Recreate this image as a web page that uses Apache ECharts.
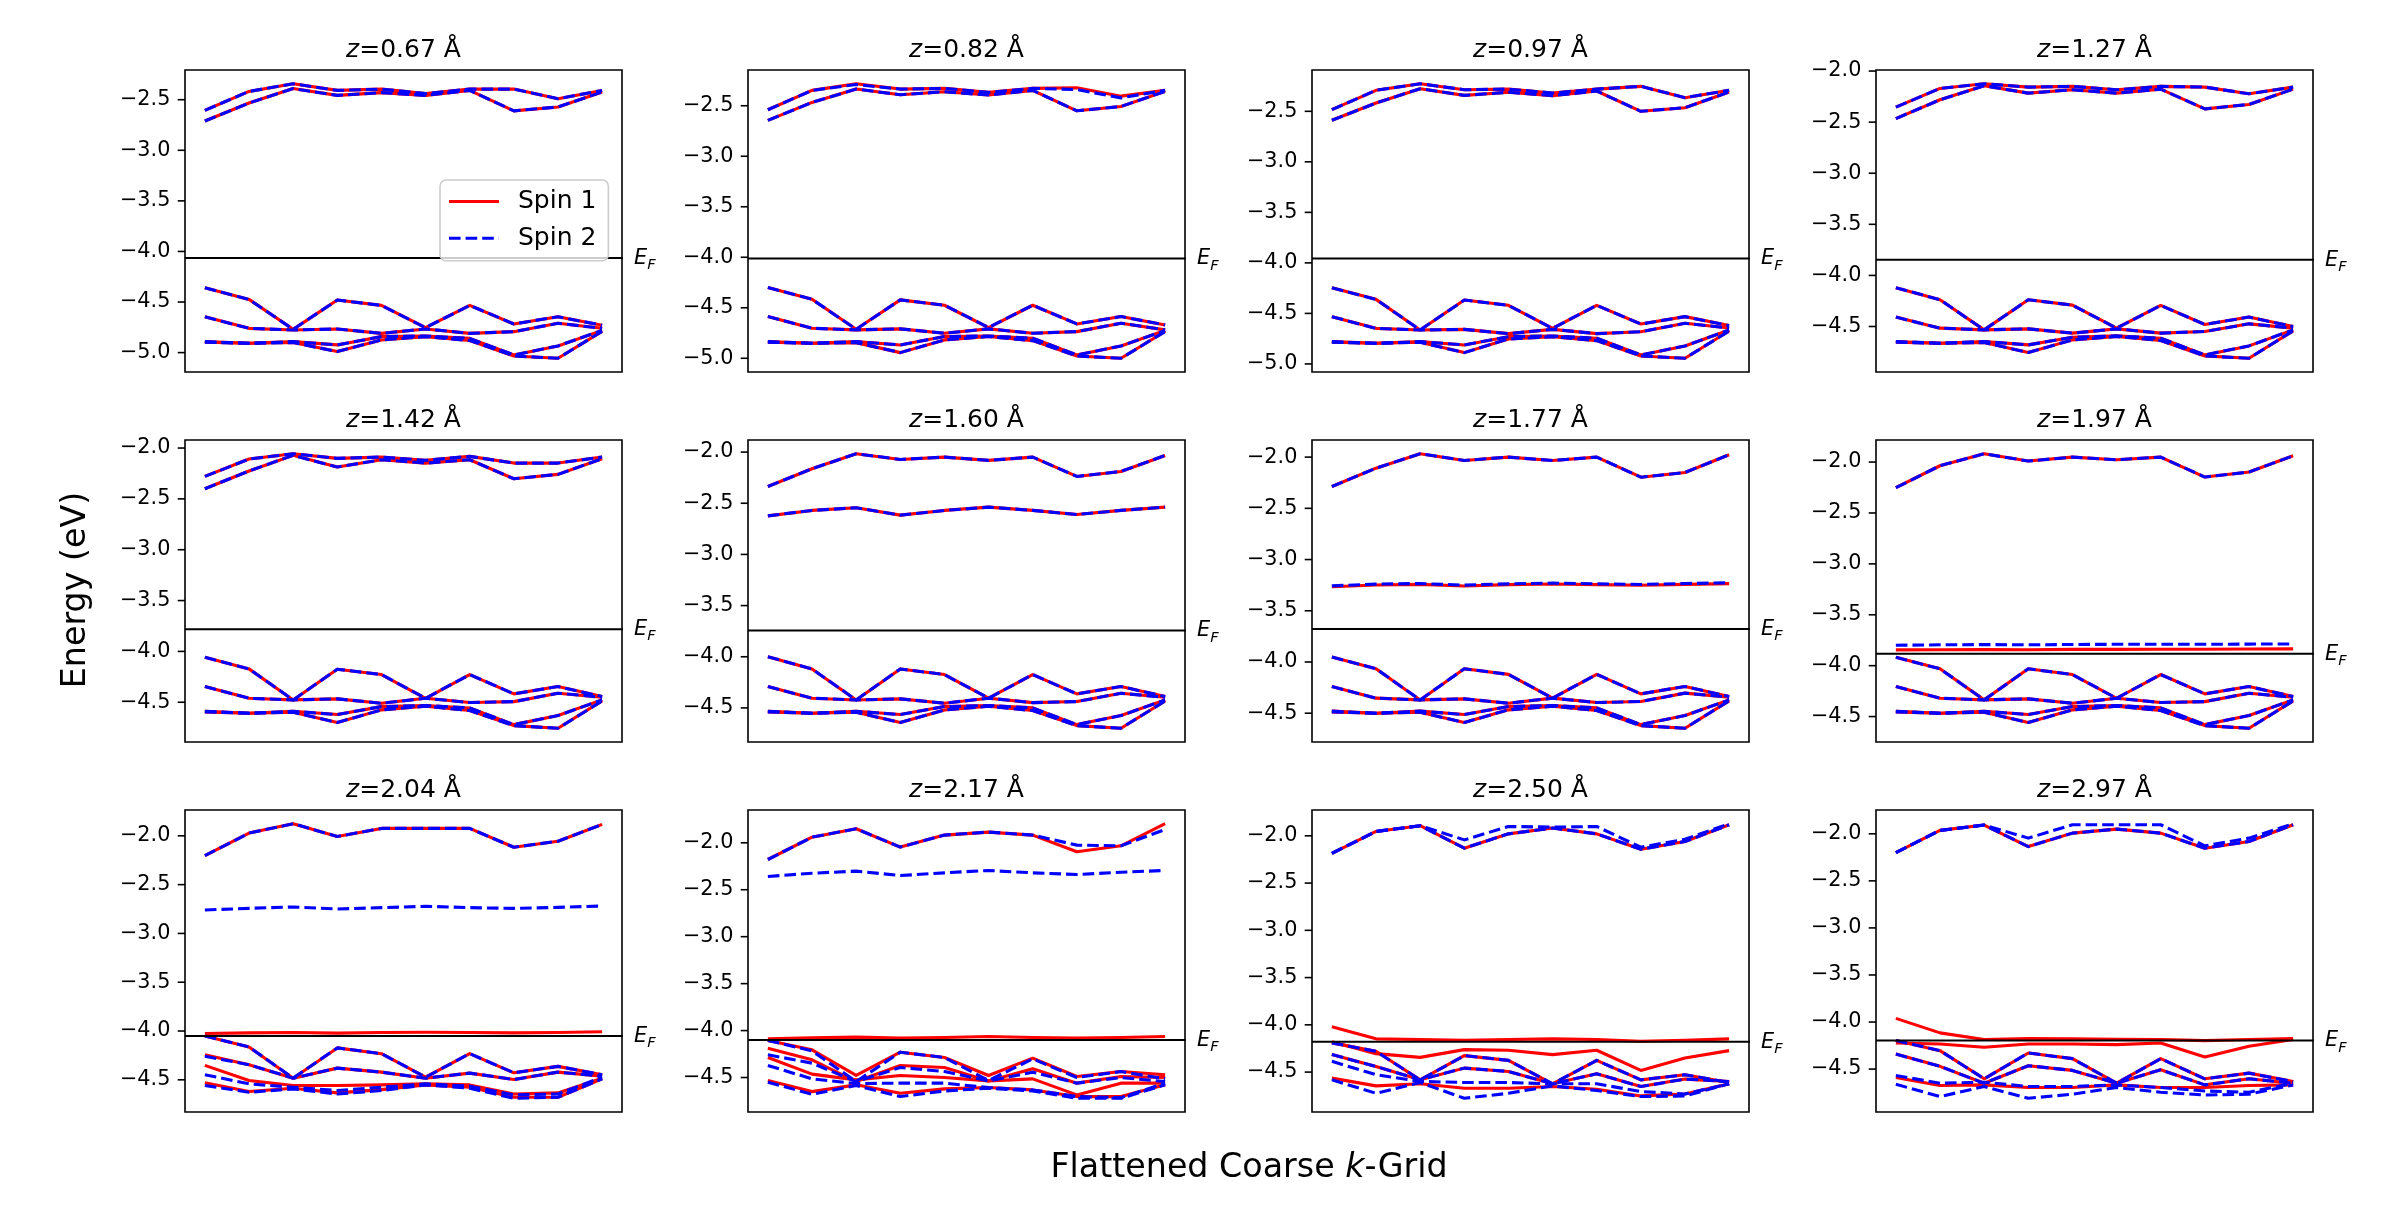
<!DOCTYPE html>
<html>
<head>
<meta charset="utf-8">
<script src="https://cdn.jsdelivr.net/npm/echarts@6/dist/echarts.min.js"></script>
<style>
html,body{margin:0;padding:0;background:#fff;}
#chart{width:2392px;height:1208px;}
</style>
</head>
<body>
<div id="chart"></div>
<script>
// ---------------- DATA ----------------
const kPoints = [0, 1, 2, 3, 4, 5, 6, 7, 8, 9];
const zValues = ['0.67', '0.82', '0.97', '1.27', '1.42', '1.60', '1.77', '1.97', '2.04', '2.17', '2.50', '2.97'];
const fermiLevels = [-4.065, -4.013, -3.956, -3.846, -3.781, -3.744, -3.678, -3.884, -4.05, -4.10, -4.18, -4.197];
const ticksLow = [-5.0, -4.5, -4.0, -3.5, -3.0, -2.5];
const ticksHigh = [-4.5, -4.0, -3.5, -3.0, -2.5, -2.0];
const legendNames = ['Spin 1', 'Spin 2'];

// z = 0.67 Å
const z067_spin1 = [
  [-2.605, -2.418, -2.342, -2.408, -2.395, -2.44, -2.395, -2.395, -2.49, -2.408],
  [-2.71, -2.533, -2.39, -2.457, -2.43, -2.457, -2.408, -2.61, -2.572, -2.424],
  [-4.359, -4.474, -4.77, -4.48, -4.533, -4.753, -4.533, -4.717, -4.645, -4.73],
  [-4.645, -4.76, -4.776, -4.766, -4.81, -4.766, -4.81, -4.793, -4.71, -4.76],
  [-4.891, -4.908, -4.891, -4.924, -4.842, -4.836, -4.859, -5.023, -4.934, -4.78],
  [-4.898, -4.908, -4.90, -4.99, -4.875, -4.842, -4.88, -5.033, -5.056, -4.79]
];
const z067_spin2 = z067_spin1;

// z = 0.82 Å
const z082_spin1 = [
  [-2.54, -2.348, -2.282, -2.335, -2.328, -2.368, -2.328, -2.322, -2.405, -2.348],
  [-2.645, -2.467, -2.335, -2.391, -2.361, -2.394, -2.348, -2.55, -2.507, -2.358],
  [-4.30, -4.416, -4.713, -4.422, -4.475, -4.696, -4.475, -4.66, -4.587, -4.67],
  [-4.587, -4.703, -4.719, -4.709, -4.752, -4.709, -4.752, -4.736, -4.653, -4.719],
  [-4.835, -4.851, -4.835, -4.868, -4.785, -4.779, -4.802, -4.967, -4.878, -4.725],
  [-4.842, -4.851, -4.845, -4.944, -4.818, -4.785, -4.825, -4.977, -5.0, -4.735]
];
const z082_spin2 = [
  [-2.54, -2.348, -2.29, -2.335, -2.328, -2.368, -2.328, -2.34, -2.422, -2.348],
  [-2.645, -2.467, -2.335, -2.391, -2.361, -2.394, -2.348, -2.55, -2.507, -2.358],
  [-4.30, -4.416, -4.713, -4.422, -4.475, -4.696, -4.475, -4.66, -4.587, -4.67],
  [-4.587, -4.703, -4.719, -4.709, -4.752, -4.709, -4.752, -4.736, -4.653, -4.719],
  [-4.835, -4.851, -4.835, -4.868, -4.785, -4.779, -4.802, -4.967, -4.878, -4.725],
  [-4.842, -4.851, -4.845, -4.944, -4.818, -4.785, -4.825, -4.977, -5.0, -4.735]
];

// z = 0.97 Å
const z097_spin1 = [
  [-2.484, -2.292, -2.227, -2.286, -2.28, -2.319, -2.28, -2.253, -2.365, -2.292],
  [-2.589, -2.418, -2.276, -2.342, -2.312, -2.345, -2.299, -2.50, -2.464, -2.309],
  [-4.246, -4.361, -4.664, -4.368, -4.42, -4.648, -4.42, -4.605, -4.532, -4.62],
  [-4.532, -4.648, -4.664, -4.658, -4.70, -4.658, -4.70, -4.681, -4.598, -4.645],
  [-4.779, -4.796, -4.779, -4.812, -4.73, -4.723, -4.746, -4.911, -4.822, -4.664],
  [-4.786, -4.796, -4.786, -4.888, -4.753, -4.73, -4.769, -4.921, -4.944, -4.674]
];
const z097_spin2 = z097_spin1;

// z = 1.27 Å
const z127_spin1 = [
  [-2.353, -2.17, -2.124, -2.157, -2.15, -2.183, -2.15, -2.157, -2.223, -2.157],
  [-2.465, -2.281, -2.144, -2.216, -2.183, -2.216, -2.177, -2.37, -2.327, -2.177],
  [-4.12, -4.238, -4.533, -4.238, -4.291, -4.516, -4.294, -4.48, -4.408, -4.50],
  [-4.408, -4.516, -4.533, -4.523, -4.565, -4.523, -4.565, -4.549, -4.474, -4.516],
  [-4.647, -4.664, -4.647, -4.68, -4.605, -4.592, -4.615, -4.778, -4.69, -4.533],
  [-4.654, -4.664, -4.657, -4.755, -4.631, -4.598, -4.637, -4.788, -4.811, -4.543]
];
const z127_spin2 = z127_spin1;

// z = 1.42 Å
const z142_spin1 = [
  [-2.279, -2.108, -2.056, -2.102, -2.089, -2.121, -2.082, -2.148, -2.148, -2.089],
  [-2.40, -2.226, -2.072, -2.187, -2.115, -2.148, -2.115, -2.302, -2.259, -2.105],
  [-4.057, -4.172, -4.477, -4.175, -4.228, -4.461, -4.228, -4.418, -4.346, -4.444],
  [-4.346, -4.461, -4.477, -4.467, -4.51, -4.461, -4.503, -4.494, -4.411, -4.451],
  [-4.589, -4.608, -4.589, -4.621, -4.543, -4.533, -4.556, -4.72, -4.631, -4.477],
  [-4.595, -4.608, -4.598, -4.70, -4.575, -4.539, -4.582, -4.73, -4.756, -4.487]
];
const z142_spin2 = z142_spin1;

// z = 1.60 Å
const z160_spin1 = [
  [-2.336, -2.163, -2.016, -2.072, -2.049, -2.081, -2.049, -2.238, -2.189, -2.033],
  [-2.623, -2.57, -2.544, -2.616, -2.57, -2.538, -2.57, -2.61, -2.57, -2.538],
  [-4.0, -4.119, -4.422, -4.119, -4.174, -4.405, -4.174, -4.363, -4.291, -4.389],
  [-4.291, -4.405, -4.422, -4.412, -4.454, -4.405, -4.448, -4.438, -4.357, -4.396],
  [-4.533, -4.552, -4.533, -4.565, -4.487, -4.477, -4.50, -4.663, -4.575, -4.422],
  [-4.539, -4.552, -4.542, -4.643, -4.52, -4.484, -4.526, -4.673, -4.699, -4.432]
];
const z160_spin2 = z160_spin1;

// z = 1.77 Å
const z177_spin1 = [
  [-2.287, -2.108, -1.967, -2.033, -2.0, -2.033, -2.0, -2.196, -2.15, -1.977],
  [-3.265, -3.248, -3.242, -3.258, -3.245, -3.238, -3.245, -3.251, -3.242, -3.235],
  [-3.952, -4.066, -4.37, -4.066, -4.121, -4.353, -4.121, -4.311, -4.239, -4.337],
  [-4.239, -4.353, -4.37, -4.36, -4.402, -4.353, -4.396, -4.386, -4.304, -4.343],
  [-4.48, -4.50, -4.48, -4.513, -4.435, -4.425, -4.448, -4.611, -4.523, -4.37],
  [-4.487, -4.50, -4.49, -4.591, -4.467, -4.432, -4.474, -4.621, -4.647, -4.379]
];
const z177_spin2 = [
  [-2.287, -2.108, -1.967, -2.033, -2.0, -2.033, -2.0, -2.196, -2.15, -1.977],
  [-3.257, -3.24, -3.234, -3.25, -3.237, -3.23, -3.237, -3.243, -3.234, -3.227],
  [-3.952, -4.066, -4.37, -4.066, -4.121, -4.353, -4.121, -4.311, -4.239, -4.337],
  [-4.239, -4.353, -4.37, -4.36, -4.402, -4.353, -4.396, -4.386, -4.304, -4.343],
  [-4.48, -4.50, -4.48, -4.513, -4.435, -4.425, -4.448, -4.611, -4.523, -4.37],
  [-4.487, -4.50, -4.49, -4.591, -4.467, -4.432, -4.474, -4.621, -4.647, -4.379]
];

// z = 1.97 Å
const z197_spin1 = [
  [-2.252, -2.036, -1.918, -1.99, -1.951, -1.977, -1.951, -2.147, -2.098, -1.938],
  [-3.845, -3.843, -3.842, -3.843, -3.84, -3.84, -3.838, -3.838, -3.836, -3.835],
  [-3.917, -4.031, -4.336, -4.031, -4.087, -4.32, -4.087, -4.277, -4.205, -4.303],
  [-4.205, -4.32, -4.336, -4.326, -4.369, -4.32, -4.362, -4.353, -4.271, -4.31],
  [-4.448, -4.467, -4.448, -4.48, -4.402, -4.392, -4.415, -4.579, -4.49, -4.336],
  [-4.454, -4.467, -4.457, -4.559, -4.434, -4.398, -4.441, -4.589, -4.615, -4.346]
];
const z197_spin2 = [
  [-2.252, -2.036, -1.918, -1.99, -1.951, -1.977, -1.951, -2.147, -2.098, -1.938],
  [-3.80, -3.795, -3.793, -3.795, -3.792, -3.79, -3.79, -3.79, -3.788, -3.787],
  [-3.917, -4.031, -4.336, -4.031, -4.087, -4.32, -4.087, -4.277, -4.205, -4.303],
  [-4.205, -4.32, -4.336, -4.326, -4.369, -4.32, -4.362, -4.353, -4.271, -4.31],
  [-4.448, -4.467, -4.448, -4.48, -4.402, -4.392, -4.415, -4.579, -4.49, -4.336],
  [-4.454, -4.467, -4.457, -4.559, -4.434, -4.398, -4.441, -4.589, -4.615, -4.346]
];

// z = 2.04 Å
const z204_spin1 = [
  [-2.203, -1.972, -1.876, -2.007, -1.924, -1.924, -1.924, -2.117, -2.055, -1.883],
  [-4.025, -4.019, -4.015, -4.022, -4.015, -4.012, -4.015, -4.019, -4.015, -4.008],
  [-4.05, -4.163, -4.483, -4.173, -4.232, -4.473, -4.232, -4.428, -4.362, -4.448],
  [-4.242, -4.345, -4.483, -4.38, -4.421, -4.483, -4.431, -4.497, -4.421, -4.462],
  [-4.352, -4.507, -4.558, -4.558, -4.552, -4.541, -4.552, -4.645, -4.634, -4.483],
  [-4.531, -4.62, -4.586, -4.634, -4.6, -4.552, -4.576, -4.679, -4.679, -4.49]
];
const z204_spin2 = [
  [-2.203, -1.972, -1.876, -2.007, -1.924, -1.924, -1.924, -2.117, -2.055, -1.883],
  [-2.76, -2.743, -2.729, -2.75, -2.736, -2.722, -2.736, -2.743, -2.733, -2.719],
  [-4.05, -4.163, -4.483, -4.173, -4.232, -4.473, -4.232, -4.428, -4.362, -4.448],
  [-4.259, -4.345, -4.483, -4.38, -4.421, -4.483, -4.431, -4.497, -4.421, -4.462],
  [-4.448, -4.541, -4.576, -4.61, -4.576, -4.541, -4.565, -4.655, -4.645, -4.473],
  [-4.558, -4.627, -4.593, -4.645, -4.61, -4.552, -4.586, -4.689, -4.679, -4.49]
];

// z = 2.17 Å
const z217_spin1 = [
  [-2.178, -1.94, -1.851, -2.046, -1.918, -1.886, -1.918, -2.096, -2.032, -1.797],
  [-4.087, -4.077, -4.07, -4.08, -4.073, -4.063, -4.073, -4.08, -4.073, -4.063],
  [-4.105, -4.205, -4.478, -4.23, -4.287, -4.478, -4.294, -4.489, -4.436, -4.471],
  [-4.187, -4.312, -4.543, -4.372, -4.393, -4.536, -4.407, -4.56, -4.489, -4.5],
  [-4.287, -4.464, -4.525, -4.478, -4.5, -4.536, -4.514, -4.685, -4.56, -4.56],
  [-4.532, -4.65, -4.578, -4.667, -4.621, -4.607, -4.632, -4.703, -4.703, -4.578]
];
const z217_spin2 = [
  [-2.178, -1.94, -1.851, -2.046, -1.918, -1.886, -1.918, -2.025, -2.032, -1.858],
  [-2.359, -2.324, -2.302, -2.349, -2.32, -2.295, -2.32, -2.338, -2.313, -2.295],
  [-4.105, -4.216, -4.543, -4.23, -4.287, -4.532, -4.301, -4.5, -4.436, -4.514],
  [-4.258, -4.347, -4.543, -4.393, -4.436, -4.536, -4.443, -4.56, -4.5, -4.543],
  [-4.372, -4.514, -4.564, -4.56, -4.56, -4.607, -4.632, -4.703, -4.714, -4.56],
  [-4.55, -4.678, -4.585, -4.703, -4.643, -4.614, -4.643, -4.721, -4.721, -4.578]
];

// z = 2.50 Å
const z250_spin1 = [
  [-2.185, -1.954, -1.893, -2.131, -1.979, -1.918, -1.979, -2.142, -2.06, -1.883],
  [-4.021, -4.148, -4.155, -4.163, -4.155, -4.148, -4.155, -4.173, -4.163, -4.148],
  [-4.18, -4.305, -4.344, -4.262, -4.269, -4.315, -4.269, -4.482, -4.351, -4.273],
  [-4.191, -4.28, -4.582, -4.326, -4.376, -4.624, -4.376, -4.582, -4.528, -4.61],
  [-4.315, -4.44, -4.582, -4.458, -4.493, -4.624, -4.518, -4.653, -4.574, -4.599],
  [-4.564, -4.646, -4.624, -4.671, -4.671, -4.653, -4.681, -4.752, -4.731, -4.624]
];
const z250_spin2 = [
  [-2.185, -1.954, -1.893, -2.131, -1.979, -1.918, -1.979, -2.142, -2.06, -1.883],
  [-2.185, -1.954, -1.893, -2.043, -1.901, -1.908, -1.901, -2.121, -2.036, -1.872],
  [-4.191, -4.28, -4.582, -4.326, -4.376, -4.624, -4.376, -4.582, -4.528, -4.61],
  [-4.315, -4.44, -4.582, -4.458, -4.493, -4.624, -4.518, -4.653, -4.574, -4.599],
  [-4.386, -4.528, -4.599, -4.61, -4.61, -4.624, -4.624, -4.706, -4.731, -4.624],
  [-4.582, -4.724, -4.61, -4.777, -4.724, -4.646, -4.695, -4.759, -4.752, -4.624]
];

// z = 2.97 Å
const z297_spin1 = [
  [-2.2, -1.964, -1.907, -2.136, -1.993, -1.95, -1.993, -2.153, -2.082, -1.904],
  [-3.961, -4.115, -4.186, -4.175, -4.179, -4.183, -4.186, -4.197, -4.186, -4.175],
  [-4.222, -4.233, -4.268, -4.233, -4.233, -4.24, -4.222, -4.372, -4.257, -4.186],
  [-4.197, -4.304, -4.603, -4.329, -4.389, -4.65, -4.389, -4.603, -4.543, -4.632],
  [-4.34, -4.471, -4.65, -4.464, -4.514, -4.65, -4.507, -4.668, -4.603, -4.65],
  [-4.589, -4.675, -4.668, -4.696, -4.696, -4.668, -4.696, -4.696, -4.675, -4.668]
];
const z297_spin2 = [
  [-2.2, -1.964, -1.907, -2.136, -1.993, -1.95, -1.993, -2.153, -2.082, -1.904],
  [-2.2, -1.964, -1.907, -2.046, -1.904, -1.904, -1.904, -2.128, -2.046, -1.893],
  [-4.197, -4.304, -4.603, -4.329, -4.389, -4.65, -4.389, -4.603, -4.543, -4.632],
  [-4.34, -4.471, -4.65, -4.464, -4.514, -4.65, -4.507, -4.668, -4.603, -4.65],
  [-4.568, -4.65, -4.639, -4.685, -4.685, -4.668, -4.696, -4.732, -4.746, -4.65],
  [-4.661, -4.792, -4.685, -4.81, -4.767, -4.696, -4.746, -4.775, -4.767, -4.668]
];

const spin1Panels = [z067_spin1, z082_spin1, z097_spin1, z127_spin1, z142_spin1, z160_spin1,
                     z177_spin1, z197_spin1, z204_spin1, z217_spin1, z250_spin1, z297_spin1];
const spin2Panels = [z067_spin2, z082_spin2, z097_spin2, z127_spin2, z142_spin2, z160_spin2,
                     z177_spin2, z197_spin2, z204_spin2, z217_spin2, z250_spin2, z297_spin2];
const tickSets = [ticksLow, ticksLow, ticksLow, ticksHigh, ticksHigh, ticksHigh,
                  ticksHigh, ticksHigh, ticksHigh, ticksHigh, ticksHigh, ticksHigh];

// ---------------- LAYOUT / STYLE ----------------
const FONT = 'DejaVu Sans';
const colLeft = [185, 748, 1312, 1876];
const rowTop = [70, 440, 810];
const PW = 437, PH = 302;
const RED = '#ff0000', BLUE = '#0000ff';
const TICK_LEN = 7.3;
const LW = 3.1, DASH = 11.6, GAP = 5;

// legend handle shapes (solid bar / dashed bar, 50 px long)
const solidIcon = 'path://M0,0h50v' + LW + 'h-50z';
let dashPath = '';
for (let s = 0; s < 50; s += DASH + GAP) {
  const w = Math.min(DASH, 50 - s);
  dashPath += 'M' + s + ',0h' + w + 'v' + LW + 'h-' + w + 'z';
}
const dashIcon = 'path://' + dashPath;

const xLo = Math.min(...kPoints), xHi = Math.max(...kPoints);
const xPad = 0.05 * (xHi - xLo);
const xMin = xLo - xPad, xMax = xHi + xPad;
const xEF = xMax + 0.016 * (xMax - xMin);

const fmt = v => (v < 0 ? '\u2212' : '') + Math.abs(v).toFixed(1);

const grids = [], xAxes = [], yAxes = [], series = [], graphics = [];

zValues.forEach((z, i) => {
  const col = i % 4, row = Math.floor(i / 4);
  const left = colLeft[col], top = rowTop[row];
  grids.push({left: left, top: top, width: PW, height: PH, show: true,
              borderColor: '#000', borderWidth: 1.6, backgroundColor: 'rgba(0,0,0,0)'});
  const all = spin1Panels[i].flat().concat(spin2Panels[i].flat());
  const lo = Math.min(...all), hi = Math.max(...all);
  const pad = 0.05 * (hi - lo);
  xAxes.push({type: 'value', gridIndex: i, min: xMin, max: xMax,
              axisLine: {show: false}, axisTick: {show: false}, axisLabel: {show: false}, splitLine: {show: false}});
  yAxes.push({type: 'value', gridIndex: i, min: lo - pad, max: hi + pad,
              axisLine: {show: false}, splitLine: {show: false}, axisTick: {show: false},
              axisLabel: {show: true, customValues: tickSets[i], formatter: fmt, fontSize: 20.8,
                          fontFamily: FONT, color: '#000', margin: 14.6}});
  // y tick marks, placed through the axis scale
  series.push({type: 'custom', name: 'ticks', xAxisIndex: i, yAxisIndex: i, clip: false, silent: true, z: 5,
               data: tickSets[i].map(v => [xMin, v]),
               renderItem: (params, api) => {
                 const p = api.coord([api.value(0), api.value(1)]);
                 return {type: 'line', shape: {x1: p[0] - TICK_LEN, y1: p[1], x2: p[0], y2: p[1]},
                         style: {stroke: '#000', lineWidth: 1.6}};
               }});
  spin1Panels[i].forEach(band => {
    series.push({type: 'line', name: 'Spin 1', xAxisIndex: i, yAxisIndex: i,
                 data: band.map((v, k) => [kPoints[k], v]), symbol: 'none', silent: true,
                 color: RED, lineStyle: {color: RED, width: LW, join: 'round'}, z: 2});
  });
  spin2Panels[i].forEach(band => {
    series.push({type: 'line', name: 'Spin 2', xAxisIndex: i, yAxisIndex: i,
                 data: band.map((v, k) => [kPoints[k], v]), symbol: 'none', silent: true,
                 color: BLUE, lineStyle: {color: BLUE, width: LW, type: [DASH, GAP], join: 'round'}, z: 3});
  });
  series.push({type: 'line', name: 'EF', xAxisIndex: i, yAxisIndex: i, clip: false,
               data: [[xMin, fermiLevels[i]], [xEF, fermiLevels[i]]], symbol: 'none', silent: true,
               color: '#000', lineStyle: {color: '#000', width: 2}, z: 4,
               endLabel: {show: true, distance: 11, formatter: '{e|E}{f|F}',
                          rich: {
                            e: {fontStyle: 'italic', fontSize: 20.8, fontFamily: FONT, color: '#000', lineHeight: 20, verticalAlign: 'top'},
                            f: {fontStyle: 'italic', fontSize: 14.6, fontFamily: FONT, color: '#000', lineHeight: 14, verticalAlign: 'top', padding: [10, 0, 0, 0]}
                          }}});
  graphics.push({type: 'text', x: left + PW / 2, y: top - 19.5, silent: true,
                 style: {text: '{i|z}=' + z + ' \u00c5', fontSize: 25, fontFamily: FONT, fill: '#000',
                         align: 'center', verticalAlign: 'middle',
                         rich: {i: {fontStyle: 'italic', fontSize: 25, fontFamily: FONT, fill: '#000'}}}});
});

graphics.push({type: 'text', x: 76, y: 590, rotation: Math.PI / 2, silent: true,
               style: {text: 'Energy (eV)', fontSize: 33.3, fontFamily: FONT, fill: '#000',
                       align: 'center', verticalAlign: 'middle'}});
graphics.push({type: 'text', x: 1249, y: 1168, silent: true,
               style: {text: 'Flattened Coarse {i|k}-Grid', fontSize: 33.3, fontFamily: FONT, fill: '#000',
                       align: 'center', verticalAlign: 'middle',
                       rich: {i: {fontStyle: 'italic', fontSize: 33.3, fontFamily: FONT, fill: '#000'}}}});

const option = {
  animation: false,
  backgroundColor: '#ffffff',
  grid: grids,
  xAxis: xAxes,
  yAxis: yAxes,
  legend: {
    data: [
      {name: legendNames[0], icon: solidIcon, itemStyle: {color: RED, borderWidth: 0, opacity: 1}},
      {name: legendNames[1], icon: dashIcon, itemStyle: {color: BLUE, borderWidth: 0, opacity: 1}}
    ],
    left: 440, top: 180, orient: 'vertical', selectedMode: false, symbolKeepAspect: true,
    itemWidth: 50, itemHeight: 25, itemGap: 11.7, padding: [9, 12, 10, 9],
    backgroundColor: 'rgba(255,255,255,0.8)', borderColor: '#cccccc', borderWidth: 1.6, borderRadius: 6,
    textStyle: {fontSize: 25, fontFamily: FONT, color: '#000', padding: [0, 0, 0, 14]},
    z: 10
  },
  series: series,
  graphic: graphics
};

const chart = echarts.init(document.getElementById('chart'), null, {renderer: 'canvas'});
chart.setOption(option);
</script>
</body>
</html>
